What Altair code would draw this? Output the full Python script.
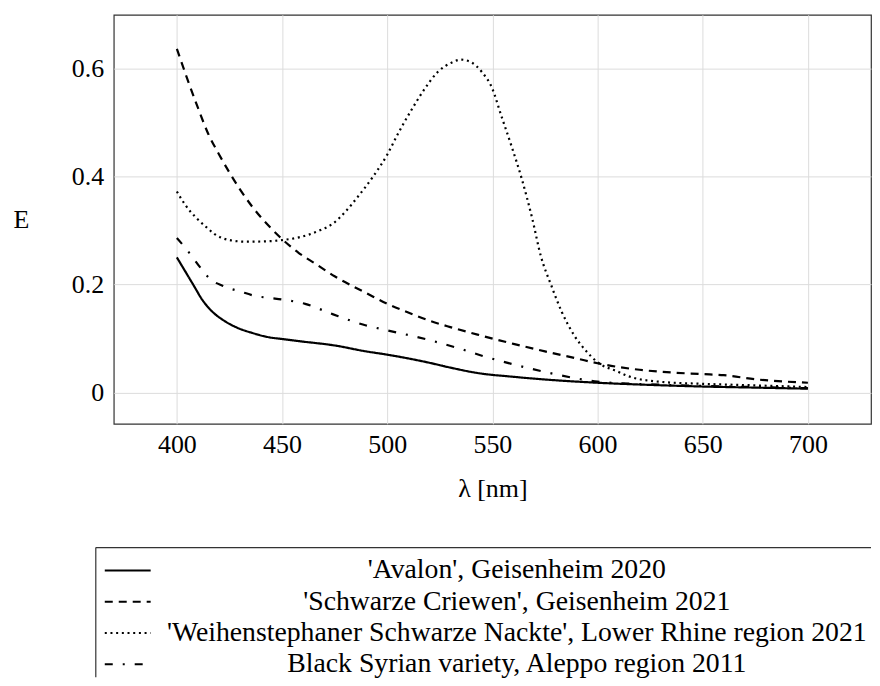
import altair as alt
import pandas as pd

# ---- data ----
series_names = [
    "'Avalon', Geisenheim 2020",
    "'Schwarze Criewen', Geisenheim 2021",
    "'Weihenstephaner Schwarze Nackte', Lower Rhine region 2021",
    "Black Syrian variety, Aleppo region 2011",
]

avalon_nm = [400, 404, 408, 412, 417, 422, 428, 436, 444, 450, 458, 475, 490, 500, 510, 520, 530, 543, 560, 575, 600, 625, 650, 675, 700]
avalon_E = [0.250, 0.224, 0.198, 0.172, 0.149, 0.134, 0.121, 0.110, 0.102, 0.099, 0.095, 0.087, 0.076, 0.070, 0.063, 0.055, 0.046, 0.036, 0.029, 0.024, 0.018, 0.014, 0.011, 0.009, 0.007]

criewen_nm = [400, 405, 410, 415, 420, 425, 430, 436, 444, 450, 458, 466, 475, 484, 490, 500, 510, 520, 530, 543, 560, 575, 590, 600, 620, 635, 650, 660, 676, 690, 700]
criewen_E = [0.636, 0.580, 0.527, 0.478, 0.441, 0.407, 0.376, 0.343, 0.307, 0.284, 0.258, 0.238, 0.215, 0.196, 0.184, 0.164, 0.148, 0.133, 0.121, 0.107, 0.090, 0.076, 0.063, 0.054, 0.042, 0.037, 0.034, 0.032, 0.024, 0.020, 0.018]

nackte_nm = [400, 404, 409, 414, 418, 425, 433, 444, 450, 458, 468, 474, 480, 486, 493, 500, 505, 512, 518, 524, 531, 535, 540, 545, 550, 554, 559, 564, 569, 573, 578, 583, 589, 595, 600, 610, 614, 629, 650, 676, 700]
nackte_E = [0.372, 0.347, 0.324, 0.306, 0.293, 0.282, 0.279, 0.280, 0.282, 0.287, 0.300, 0.312, 0.334, 0.362, 0.398, 0.440, 0.478, 0.526, 0.563, 0.593, 0.611, 0.616, 0.611, 0.593, 0.562, 0.515, 0.457, 0.395, 0.321, 0.253, 0.198, 0.149, 0.105, 0.075, 0.056, 0.038, 0.031, 0.020, 0.016, 0.013, 0.010]

syrian_nm = [400, 406, 411, 415.5, 422, 430, 438, 444, 452, 461, 474, 490, 500, 520, 537, 545, 559, 575, 590, 600, 625, 650, 675, 700]
syrian_E = [0.286, 0.258, 0.232, 0.211, 0.197, 0.187, 0.178, 0.175, 0.171, 0.164, 0.145, 0.124, 0.115, 0.097, 0.078, 0.068, 0.053, 0.038, 0.026, 0.020, 0.015, 0.012, 0.010, 0.008]

x_ticks = [400, 450, 500, 550, 600, 650, 700]
y_ticks = [0, 0.2, 0.4, 0.6]

# ---- build table ----
rows = []
for name, xs, ys in zip(series_names,
                        [avalon_nm, criewen_nm, nackte_nm, syrian_nm],
                        [avalon_E, criewen_E, nackte_E, syrian_E]):
    for xv, yv in zip(xs, ys):
        rows.append({"series": name, "nm": xv, "E": yv})
df = pd.DataFrame(rows)

leg_df = pd.DataFrame({"series": series_names, "row": list(range(len(series_names)))})

FONT = "serif"
FS = 26
LEG_FS = 27.8
W = 759
dash_scale = alt.Scale(domain=series_names,
                       range=[[1, 0], [8, 6], [2, 3.7], [8, 10, 2, 10]])

plot = alt.Chart(df).mark_line(color="black", strokeWidth=2.2, interpolate="monotone").encode(
    x=alt.X("nm:Q",
            scale=alt.Scale(domain=[370, 730], nice=False, zero=False),
            axis=alt.Axis(values=x_ticks, title="λ [nm]", format="d",
                          labelPadding=8, titleY=65, titleBaseline="middle")),
    y=alt.Y("E:Q",
            scale=alt.Scale(domain=[-0.058, 0.699], nice=False, zero=False),
            axis=alt.Axis(values=y_ticks, title="E", format="~g",
                          labelPadding=10, titleAngle=0, titleX=-93, titleY=205,
                          titleAlign="center", titleBaseline="middle")),
    strokeDash=alt.StrokeDash("series:N", scale=dash_scale, legend=None),
    detail="series:N",
).properties(width=W, height=410,
             view=alt.ViewBackground(stroke="#333333", strokeWidth=1.2))

frame_df = pd.DataFrame({"k": [0]})
top_border = alt.Chart(frame_df).mark_rule(color="#333333", strokeWidth=1.2).encode(
    x=alt.value(-18), x2=alt.value(W), y=alt.value(0))
left_border = alt.Chart(frame_df).mark_rule(color="#333333", strokeWidth=1.2).encode(
    x=alt.value(-18), y=alt.value(0), y2=alt.value(130))

row_scale = alt.Scale(domain=[0, 3], range=[23, 117])
samples = alt.Chart(leg_df).mark_rule(color="black", strokeWidth=2.2).encode(
    x=alt.value(-9), x2=alt.value(37),
    y=alt.Y("row:Q", scale=row_scale, axis=None),
    strokeDash=alt.StrokeDash("series:N", scale=dash_scale, legend=None),
)
labels = alt.Chart(leg_df).mark_text(font=FONT, fontSize=LEG_FS, color="black",
                                     align="center", baseline="middle").encode(
    x=alt.value(404),
    y=alt.Y("row:Q", scale=row_scale, axis=None),
    text="series:N",
)
legend = alt.layer(top_border, left_border, samples, labels).properties(width=W, height=130)

chart = alt.vconcat(plot, legend, spacing=44).properties(
    padding={"left": 4, "top": 5, "right": 0, "bottom": 0}
).configure_view(stroke=None).configure_axis(
    labelFont=FONT, labelFontSize=FS, labelColor="black",
    titleFont=FONT, titleFontSize=FS, titleColor="black", titleFontWeight="normal",
    grid=True, gridColor="#dcdcdc", gridWidth=1,
    domain=False, ticks=False, tickSize=0,
)

chart.save("out.html", embed_options={"renderer": "svg", "actions": False})
